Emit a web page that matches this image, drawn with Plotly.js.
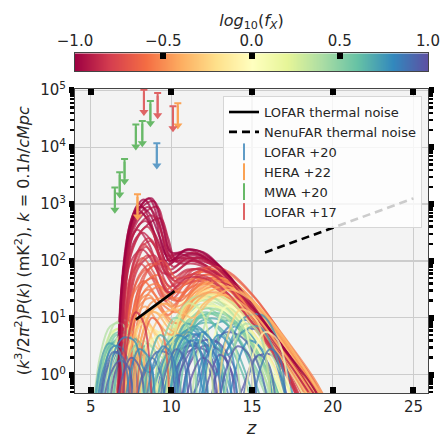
<!DOCTYPE html>
<html><head><meta charset="utf-8">
<script src="https://cdn.plot.ly/plotly-3.0.1.min.js"></script>
<style>html,body{margin:0;padding:0;background:#fff}#chart{width:445px;height:438px}</style>
</head><body><div id="chart"></div>
<script>
// ---- model curves: flat [z, log10 P, z, log10 P, ...] knots, coloured by log10(fX)
const redFx = [-1.00,-0.98,-0.96,-0.95,-0.93,-0.92,-0.90,-0.88,-0.97,-0.99,-0.86,-0.94,-0.84,-1.00,-0.91,-0.82];
const redCurves = [
 [6.70,-0.5, 7.05,1.9, 7.6,2.8, 8.3,3.08, 9.0,2.75, 9.7,2.1, 10.6,2.15, 11.6,2.12, 12.6,1.95, 14.1,1.5, 16.1,0.78, 18.2,0.0, 19.2,-0.35],
 [6.75,-0.5, 7.1,1.8, 7.7,2.75, 8.6,3.1, 9.3,2.6, 9.9,2.0, 11.0,2.2, 12.1,2.05, 13.5,1.7, 15.2,1.05, 17.2,0.3, 18.6,-0.2],
 [6.65,-0.5, 6.95,1.7, 7.4,2.6, 8.0,3.0, 8.7,2.7, 9.5,2.0, 10.4,2.12, 11.3,2.05, 12.5,1.85, 14.0,1.4, 16.0,0.65, 18.0,-0.15, 18.8,-0.5],
 [6.85,-0.5, 7.2,1.9, 7.9,2.85, 8.9,3.05, 9.5,2.6, 10.1,2.0, 11.2,2.1, 12.3,2.0, 13.6,1.65, 15.5,0.95, 17.5,0.2, 18.7,-0.3],
 [6.7,-0.5, 7.0,1.6, 7.5,2.5, 8.1,2.85, 8.8,2.55, 9.6,1.9, 10.5,2.05, 11.5,2.0, 12.7,1.8, 14.5,1.3, 16.5,0.5, 18.3,-0.2, 19.0,-0.5],
 [6.9,-0.5, 7.25,1.8, 7.9,2.7, 9.1,2.95, 9.6,2.55, 10.2,2.05, 11.3,2.15, 12.2,2.08, 13.4,1.8, 15.0,1.15, 17.0,0.4, 18.5,-0.15, 19.3,-0.45],
 [6.75,-0.5, 7.1,1.7, 7.6,2.45, 8.4,2.7, 9.2,2.35, 9.9,1.85, 10.8,2.0, 11.9,1.95, 13.0,1.75, 14.8,1.2, 16.8,0.4, 18.4,-0.3],
 [6.8,-0.5, 7.1,1.5, 7.6,2.2, 8.2,2.5, 9.0,2.25, 9.8,1.75, 11.0,1.95, 12.0,1.9, 13.3,1.65, 15.2,1.0, 17.0,0.3, 18.2,-0.3],
 [6.6,-0.5, 6.9,1.5, 7.35,2.4, 7.85,2.9, 8.5,2.75, 9.2,2.3, 9.8,1.95, 10.7,2.1, 11.8,2.1, 13.0,1.9, 14.5,1.4, 16.5,0.65, 18.5,-0.1, 19.3,-0.45],
 [6.72,-0.5, 7.05,1.85, 7.7,2.8, 8.75,3.1, 9.4,2.65, 10.0,2.15, 11.2,2.2, 12.2,2.12, 13.0,1.9, 14.1,1.53, 15.1,1.13, 16.1,0.78, 17.2,0.38, 18.2,0.0, 19.25,-0.35],
 [6.9,-0.5, 7.2,1.6, 7.7,2.3, 8.5,2.6, 9.3,2.2, 10.0,1.7, 11.0,1.85, 12.3,1.8, 13.8,1.45, 15.5,0.8, 17.2,0.05, 17.9,-0.4],
 [6.8,-0.5, 7.1,1.8, 7.7,2.65, 8.55,2.95, 9.2,2.7, 9.85,2.1, 10.7,1.95, 11.6,2.05, 12.8,1.9, 14.4,1.4, 16.3,0.7, 18.0,0.0, 19.0,-0.4],
 [7.0,-0.5, 7.3,1.4, 7.8,2.1, 8.6,2.4, 9.4,2.05, 10.2,1.65, 11.3,1.85, 12.4,1.8, 13.8,1.45, 15.6,0.75, 17.3,0.0, 18.0,-0.4],
 [6.68,-0.5, 7.0,1.75, 7.5,2.65, 8.0,2.95, 8.6,2.85, 9.3,2.4, 9.9,2.0, 10.9,2.2, 11.9,2.15, 13.2,1.85, 14.7,1.35, 16.6,0.6, 18.5,-0.1, 19.4,-0.5],
 [6.85,-0.5, 7.15,1.7, 7.8,2.55, 8.8,2.8, 9.45,2.45, 10.1,1.9, 11.0,2.05, 12.1,2.0, 13.5,1.7, 15.3,1.0, 17.3,0.2, 18.5,-0.3],
 [7.0,-0.5, 7.35,1.3, 7.9,2.0, 8.4,2.25, 9.1,2.0, 9.9,1.55, 11.0,1.75, 12.2,1.72, 13.6,1.4, 15.4,0.75, 17.0,0.05, 17.8,-0.4]
];
const orangeFx = [-0.78,-0.75,-0.72,-0.70,-0.67,-0.65,-0.62,-0.60,-0.57,-0.55,-0.52,-0.48,-0.45,-0.42,-0.38,-0.35];
const orangeCurves = [
 [6.9,-0.5, 7.2,1.2, 7.7,2.0, 8.3,2.3, 9.0,2.0, 9.7,1.5, 10.8,1.8, 11.8,1.85, 13.2,1.6, 15.0,1.0, 17.0,0.2, 18.2,-0.4],
 [7.0,-0.5, 7.3,1.1, 7.9,1.9, 8.6,2.1, 9.3,1.75, 10.1,1.35, 11.2,1.75, 12.3,1.8, 13.8,1.5, 15.7,0.85, 17.6,0.1, 18.6,-0.4],
 [6.8,-0.5, 7.1,1.0, 7.6,1.8, 8.2,2.05, 8.9,1.8, 9.6,1.35, 10.6,1.6, 11.6,1.7, 13.0,1.5, 14.8,0.95, 16.8,0.2, 17.9,-0.4],
 [7.1,-0.5, 7.4,1.0, 8.0,1.75, 8.8,1.95, 9.5,1.6, 10.4,1.3, 11.5,1.7, 12.7,1.75, 14.2,1.45, 16.0,0.8, 18.0,0.0, 19.0,-0.45],
 [6.95,-0.5, 7.25,0.9, 7.8,1.6, 8.5,1.85, 9.2,1.55, 10.0,1.2, 11.2,1.6, 12.5,1.7, 14.0,1.4, 15.8,0.8, 17.7,0.0, 18.6,-0.45],
 [7.2,-0.5, 7.5,0.9, 8.1,1.55, 8.9,1.7, 9.6,1.4, 10.6,1.3, 11.8,1.65, 13.0,1.65, 14.6,1.3, 16.5,0.6, 18.3,-0.1, 19.2,-0.5],
 [6.9,-0.5, 7.2,0.8, 7.7,1.45, 8.3,1.65, 9.0,1.4, 9.8,1.05, 11.0,1.5, 12.2,1.6, 13.7,1.35, 15.6,0.75, 17.5,0.0, 18.3,-0.45],
 [7.3,-0.5, 7.6,0.9, 8.3,1.6, 9.2,1.75, 10.0,1.5, 10.8,1.45, 12.0,1.75, 13.1,1.7, 14.6,1.35, 16.5,0.7, 18.4,-0.05, 19.3,-0.5],
 [7.0,-0.5, 7.3,0.7, 7.9,1.3, 8.6,1.5, 9.4,1.25, 10.3,1.1, 11.6,1.55, 12.9,1.6, 14.5,1.3, 16.4,0.65, 18.2,-0.05, 19.0,-0.45],
 [7.4,-0.5, 7.8,0.8, 8.5,1.4, 9.3,1.55, 10.1,1.35, 11.0,1.4, 12.3,1.7, 13.5,1.65, 15.0,1.25, 16.8,0.6, 18.6,-0.1, 19.4,-0.5],
 [7.0,-0.5, 7.4,0.6, 8.0,1.2, 8.7,1.35, 9.5,1.1, 10.4,0.9, 11.7,1.45, 13.0,1.55, 14.6,1.25, 16.4,0.6, 18.0,-0.1, 18.8,-0.5],
 [7.5,-0.5, 8.0,0.7, 8.7,1.25, 9.5,1.35, 10.4,1.2, 11.5,1.45, 12.8,1.65, 14.0,1.55, 15.6,1.1, 17.4,0.4, 19.0,-0.3, 19.5,-0.5],
 [6.8,-0.5, 7.2,0.5, 7.8,1.05, 8.4,1.2, 9.1,0.95, 10.0,0.7, 11.3,1.3, 12.6,1.45, 14.3,1.2, 16.2,0.55, 17.9,-0.15, 18.6,-0.5],
 [7.6,-0.5, 8.1,0.6, 8.9,1.15, 9.8,1.25, 10.7,1.05, 11.8,1.35, 13.1,1.55, 14.4,1.45, 16.0,1.0, 17.8,0.3, 19.2,-0.3, 19.6,-0.5],
 [7.1,-0.5, 7.5,0.5, 8.2,1.0, 9.0,1.1, 9.9,0.8, 10.8,0.7, 12.0,1.25, 13.3,1.4, 15.0,1.1, 16.8,0.45, 18.4,-0.2, 19.0,-0.5],
 [8.0,-0.5, 8.5,0.5, 9.4,1.05, 10.4,1.15, 11.3,1.0, 12.4,1.3, 13.6,1.5, 15.0,1.3, 16.6,0.8, 18.4,0.05, 19.5,-0.5]
];
const extraFx = [-0.85,-0.80,-0.95,-0.90,-0.70,-0.76,-0.55,-0.50,-0.40,-0.33,-0.88,-0.68];
const extraCurves = [
 [7.1,-0.5, 7.4,1.2, 8.0,1.9, 8.9,2.1, 9.6,1.8, 10.4,1.5, 11.5,1.8, 12.7,1.8, 14.2,1.45, 16.1,0.75, 17.8,0.0, 18.5,-0.4],
 [6.95,-0.5, 7.3,1.3, 7.9,2.1, 8.7,2.35, 9.5,1.9, 10.3,1.55, 11.4,1.85, 12.5,1.85, 14.0,1.5, 15.9,0.8, 17.7,0.05, 18.6,-0.4],
 [6.8,-0.5, 7.15,1.6, 7.8,2.4, 9.3,2.75, 9.8,2.4, 10.3,2.0, 11.1,2.05, 12.0,2.05, 13.2,1.85, 14.9,1.25, 16.9,0.5, 18.7,-0.2, 19.3,-0.45],
 [6.6,-0.5, 6.9,1.4, 7.3,2.2, 7.9,2.55, 8.6,2.3, 9.4,1.8, 10.2,1.8, 11.2,2.0, 12.4,1.95, 13.9,1.6, 15.8,0.9, 17.7,0.15, 18.9,-0.35],
 [7.2,-0.5, 7.6,1.0, 8.4,1.8, 9.4,1.95, 10.2,1.65, 11.0,1.6, 12.1,1.85, 13.3,1.75, 14.9,1.35, 16.8,0.65, 18.6,-0.1, 19.4,-0.5],
 [6.7,-0.5, 7.0,1.1, 7.5,1.75, 8.1,1.95, 8.8,1.7, 9.6,1.3, 10.6,1.55, 11.7,1.65, 13.1,1.45, 14.9,0.9, 16.9,0.15, 17.8,-0.4],
 [7.3,-0.5, 7.7,0.9, 8.4,1.5, 9.1,1.6, 9.9,1.4, 10.9,1.6, 12.2,1.85, 13.4,1.8, 15.0,1.4, 16.9,0.7, 18.8,-0.05, 19.5,-0.4],
 [6.9,-0.5, 7.3,0.7, 7.9,1.25, 8.6,1.4, 9.3,1.15, 10.1,0.9, 11.4,1.5, 12.7,1.65, 14.3,1.35, 16.2,0.7, 18.0,-0.05, 18.8,-0.5],
 [7.7,-0.5, 8.1,0.6, 8.8,1.15, 9.6,1.25, 10.5,1.1, 11.6,1.5, 12.9,1.7, 14.2,1.55, 15.8,1.05, 17.6,0.35, 19.1,-0.3, 19.6,-0.5],
 [6.6,-0.5, 7.0,0.5, 7.6,0.95, 8.3,1.0, 9.1,0.7, 9.8,0.5, 10.9,1.2, 12.2,1.45, 13.8,1.25, 15.7,0.65, 17.4,-0.05, 18.1,-0.5],
 [6.75,-0.5, 7.05,1.3, 7.5,2.0, 8.2,2.2, 9.0,1.9, 9.8,1.45, 10.9,1.7, 12.0,1.7, 13.4,1.45, 15.2,0.85, 17.0,0.1, 17.8,-0.4],
 [7.4,-0.5, 7.8,1.1, 8.6,1.85, 9.5,2.0, 10.3,1.7, 11.2,1.75, 12.4,1.9, 13.6,1.8, 15.2,1.35, 17.1,0.6, 18.9,-0.15, 19.5,-0.5]
];
const yellowFx = [-0.30,-0.25,-0.20,-0.15,-0.10,-0.05,0.00,0.05,0.10,0.12,-0.28,-0.18];
const yellowCurves = [
 [6.3,-0.5, 6.8,0.5, 7.5,0.95, 8.3,0.9, 9.2,0.45, 9.9,0.5, 11.0,1.25, 12.3,1.5, 13.8,1.3, 15.6,0.7, 17.3,0.0, 18.0,-0.5],
 [6.6,-0.5, 7.1,0.6, 7.9,1.0, 8.7,0.85, 9.6,0.35, 10.4,0.7, 11.6,1.4, 12.9,1.55, 14.5,1.25, 16.4,0.55, 18.1,-0.2, 18.7,-0.5],
 [6.0,-0.5, 6.5,0.4, 7.2,0.8, 8.0,0.65, 8.8,-0.1, 9.4,-0.6, 10.0,0.1, 10.8,1.0, 11.8,1.35, 13.0,1.3, 14.6,0.9, 16.3,0.2, 17.2,-0.5],
 [7.5,-0.5, 8.0,0.4, 8.8,0.8, 9.5,0.7, 10.2,0.75, 11.3,1.3, 12.6,1.5, 14.1,1.3, 15.9,0.75, 17.8,0.0, 18.7,-0.5],
 [6.2,-0.5, 6.7,0.35, 7.4,0.7, 8.2,0.55, 8.9,-0.1, 9.3,-0.6, 9.8,0.0, 10.6,0.9, 11.7,1.3, 13.0,1.35, 14.7,0.95, 16.6,0.2, 17.6,-0.5],
 [8.2,-0.5, 8.8,0.4, 9.8,1.0, 11.0,1.35, 12.3,1.55, 13.8,1.5, 15.6,1.1, 17.6,0.35, 19.1,-0.2, 19.6,-0.5],
 [6.5,-0.5, 7.0,0.3, 7.7,0.65, 8.5,0.5, 9.3,0.0, 9.8,-0.1, 10.6,0.7, 11.7,1.2, 13.0,1.3, 14.6,1.0, 16.4,0.3, 17.5,-0.5],
 [5.9,-0.5, 6.4,0.3, 7.0,0.6, 7.8,0.45, 8.5,-0.2, 8.8,-0.6, 9.6,-0.1, 10.6,0.8, 11.8,1.2, 13.2,1.15, 14.8,0.7, 16.3,0.0, 16.9,-0.5],
 [7.8,-0.5, 8.3,0.3, 9.1,0.7, 10.0,0.85, 11.2,1.25, 12.6,1.4, 14.2,1.2, 16.0,0.6, 17.7,-0.1, 18.4,-0.5],
 [6.4,-0.5, 6.9,0.25, 7.6,0.55, 8.3,0.35, 8.9,-0.5, 9.7,-0.3, 10.5,0.6, 11.6,1.1, 12.9,1.2, 14.5,0.9, 16.2,0.2, 17.0,-0.5],
 [7.2,-0.5, 7.7,0.6, 8.5,1.1, 9.4,1.05, 10.2,0.8, 11.2,1.3, 12.6,1.6, 14.2,1.45, 16.0,0.9, 17.9,0.15, 19.0,-0.4],
 [6.9,-0.5, 7.4,0.5, 8.2,0.9, 9.0,0.75, 9.8,0.4, 10.7,0.9, 11.9,1.35, 13.3,1.4, 15.0,1.05, 16.9,0.35, 18.3,-0.3, 18.8,-0.5]
];
const greenFx = [0.20,0.25,0.30,0.35,0.40,0.45,0.50,0.55,0.58,0.28,0.38,0.48];
const greenCurves = [
 [5.6,-0.5, 6.0,0.4, 6.6,0.8, 7.3,0.75, 8.0,0.2, 8.4,-0.5, 9.2,-0.2, 10.0,0.7, 11.0,1.25, 12.2,1.4, 13.6,1.15, 15.2,0.5, 16.6,-0.3, 17.0,-0.5],
 [5.3,-0.5, 5.7,0.3, 6.3,0.75, 7.0,0.8, 7.7,0.4, 8.3,-0.5, 9.0,-0.5, 9.7,0.4, 10.7,1.1, 11.9,1.3, 13.3,1.1, 14.9,0.45, 16.2,-0.3, 16.6,-0.5],
 [6.0,-0.5, 6.4,0.35, 7.0,0.7, 7.7,0.6, 8.3,0.0, 8.6,-0.5, 9.4,-0.3, 10.2,0.6, 11.3,1.2, 12.6,1.35, 14.0,1.1, 15.5,0.45, 16.8,-0.3, 17.2,-0.5],
 [5.5,-0.5, 5.9,0.4, 6.5,0.9, 7.2,0.95, 7.9,0.55, 8.5,-0.3, 8.8,-0.6, 9.6,0.0, 10.5,0.9, 11.6,1.3, 12.9,1.25, 14.4,0.8, 15.9,0.0, 16.5,-0.5],
 [6.3,-0.5, 6.7,0.3, 7.3,0.6, 8.0,0.45, 8.5,-0.3, 8.8,-0.6, 9.5,0.0, 10.3,0.8, 11.4,1.2, 12.7,1.2, 14.1,0.85, 15.6,0.1, 16.2,-0.5],
 [5.8,-0.5, 6.2,0.3, 6.8,0.7, 7.5,0.65, 8.1,0.1, 8.5,-0.5, 9.1,-0.3, 9.9,0.5, 10.9,1.05, 12.0,1.2, 13.3,0.95, 14.8,0.3, 15.9,-0.4],
 [6.6,-0.5, 7.0,0.2, 7.6,0.5, 8.2,0.3, 8.6,-0.5, 9.6,-0.4, 10.5,0.55, 11.6,1.0, 12.9,1.05, 14.4,0.75, 16.0,0.05, 16.6,-0.5],
 [5.4,-0.5, 5.8,0.25, 6.4,0.7, 7.1,0.75, 7.8,0.3, 8.3,-0.5, 9.2,-0.5, 10.0,0.3, 11.0,0.95, 12.2,1.1, 13.6,0.85, 15.1,0.2, 16.2,-0.5],
 [6.1,-0.5, 6.5,0.2, 7.1,0.55, 7.8,0.5, 8.4,-0.1, 8.7,-0.5, 9.8,-0.3, 10.8,0.6, 12.0,1.05, 13.4,1.05, 14.9,0.6, 16.4,-0.2, 16.9,-0.5],
 [7.0,-0.5, 7.5,0.3, 8.2,0.6, 8.9,0.45, 9.5,0.3, 10.4,0.9, 11.6,1.35, 12.9,1.4, 14.4,1.1, 16.0,0.45, 17.4,-0.3, 17.8,-0.5],
 [5.2,-0.5, 5.6,0.35, 6.2,0.85, 6.9,0.9, 7.6,0.5, 8.2,-0.4, 8.5,-0.6, 9.3,0.1, 10.2,0.95, 11.3,1.35, 12.6,1.35, 14.0,1.0, 15.5,0.3, 16.5,-0.5],
 [6.8,-0.5, 7.3,0.3, 8.0,0.55, 8.6,0.2, 9.0,-0.5, 9.9,0.0, 10.8,0.8, 11.9,1.15, 13.2,1.1, 14.7,0.65, 16.2,-0.1, 16.8,-0.5]
];
const blueFx = [0.62,0.66,0.70,0.74,0.78,0.82,0.86,0.90,0.94,0.98,1.00,0.68,0.76,0.84,0.92,0.96,0.72,0.80];
const blueCurves = [
 [5.5,-0.5, 5.9,0.2, 6.5,0.6, 7.2,0.6, 7.8,0.1, 8.2,-0.5, 9.3,-0.5, 10.0,0.2, 10.9,0.85, 11.9,1.0, 13.1,0.75, 14.3,0.1, 15.0,-0.5],
 [6.0,-0.5, 6.4,0.25, 7.0,0.55, 7.6,0.4, 8.1,-0.2, 8.4,-0.6, 9.6,-0.5, 10.4,0.3, 11.4,0.85, 12.6,0.9, 13.9,0.5, 15.0,-0.3, 15.4,-0.6],
 [5.3,-0.5, 5.7,0.2, 6.3,0.55, 7.0,0.55, 7.6,0.0, 8.0,-0.6, 9.0,-0.5, 9.8,0.2, 10.7,0.7, 11.7,0.8, 12.8,0.45, 13.7,-0.3, 14.0,-0.6],
 [6.5,-0.5, 6.9,0.2, 7.5,0.45, 8.1,0.25, 8.5,-0.5, 10.5,-0.5, 11.2,0.3, 12.3,0.8, 13.6,0.95, 14.9,0.7, 16.1,0.1, 16.8,-0.5],
 [5.7,-0.5, 6.1,0.15, 6.7,0.45, 7.3,0.35, 7.8,-0.3, 8.1,-0.6, 9.2,-0.6, 9.9,0.0, 10.8,0.55, 11.8,0.6, 12.8,0.2, 13.4,-0.5],
 [7.2,-0.5, 7.6,0.1, 8.2,0.35, 8.8,0.1, 9.2,-0.5, 11.5,-0.5, 12.4,0.3, 13.6,0.85, 14.9,0.95, 16.1,0.5, 17.0,-0.3, 17.3,-0.6],
 [5.9,-0.5, 6.3,0.2, 6.9,0.5, 7.5,0.35, 8.0,-0.4, 8.3,-0.6, 9.5,-0.6, 10.2,0.0, 11.1,0.5, 12.1,0.55, 13.1,0.1, 13.6,-0.5],
 [6.8,-0.5, 7.2,0.05, 7.8,0.3, 8.4,0.0, 8.7,-0.6, 12.0,-0.6, 12.9,0.1, 14.1,0.7, 15.3,0.8, 16.4,0.35, 17.1,-0.4],
 [5.6,-0.5, 6.0,0.1, 6.6,0.4, 7.2,0.3, 7.7,-0.4, 8.0,-0.6, 9.0,-0.6, 9.8,-0.1, 10.6,0.45, 11.5,0.5, 12.4,0.05, 12.9,-0.5],
 [9.3,-0.6, 10.1,0.0, 11.0,0.4, 12.0,0.45, 12.9,0.0, 13.3,-0.6, 14.3,-0.3, 15.2,0.3, 16.2,0.35, 17.0,-0.2, 17.3,-0.6],
 [6.2,-0.5, 6.6,0.1, 7.2,0.3, 7.8,0.1, 8.2,-0.6, 10.3,-0.6, 11.0,0.1, 11.9,0.5, 12.9,0.45, 13.8,0.0, 14.2,-0.6],
 [6.4,-0.5, 6.8,0.3, 7.4,0.65, 8.1,0.55, 8.6,0.0, 8.9,-0.5, 10.0,-0.4, 10.8,0.5, 11.9,0.95, 13.1,0.95, 14.4,0.5, 15.4,-0.3, 15.7,-0.6],
 [8.5,-0.6, 9.3,0.1, 10.2,0.6, 11.2,0.8, 12.2,0.5, 12.8,0.0, 13.4,0.4, 14.5,1.0, 15.6,1.05, 16.6,0.6, 17.4,-0.2, 17.7,-0.6],
 [5.4,-0.5, 5.8,0.1, 6.4,0.5, 7.0,0.45, 7.6,-0.2, 7.9,-0.6, 9.1,-0.6, 9.9,0.1, 10.8,0.65, 11.8,0.7, 12.8,0.3, 13.4,-0.5],
 [7.6,-0.6, 8.3,0.0, 9.1,0.4, 9.9,0.35, 10.4,-0.4, 11.4,-0.3, 12.3,0.4, 13.4,0.75, 14.6,0.6, 15.6,0.0, 16.0,-0.6],
 [5.8,-0.5, 6.2,0.0, 6.8,0.25, 7.4,0.1, 7.8,-0.6, 9.8,-0.6, 10.6,0.1, 11.6,0.55, 12.7,0.6, 13.8,0.2, 14.4,-0.5],
 [9.0,-0.6, 9.7,0.2, 10.6,0.7, 11.6,0.85, 12.6,0.55, 13.5,0.35, 14.4,0.75, 15.4,0.85, 16.4,0.4, 17.1,-0.4],
 [6.0,-0.5, 6.4,0.35, 7.0,0.65, 7.7,0.6, 8.3,0.1, 8.7,0.05, 9.5,0.45, 10.4,0.7, 11.3,0.5, 11.9,-0.2, 12.2,-0.6]
];
const arcFx = [0.90,0.95,0.85,1.00,0.75,0.65,0.55,0.45,0.15,-0.10,-0.45,0.80,0.92,0.70,0.60,0.35,0.05,-0.25,0.88,0.98,0.50,0.25,0.72,-0.65,-0.85,0.82,0.40,-0.05,0.97,0.68,
               0.93,0.87,0.99,0.78,0.95,0.74,0.83,0.86,0.91,0.79];
const arcCurves = [
 [9.0,-0.6, 9.5,0.2, 10.1,0.55, 10.7,0.3, 11.1,-0.6],
 [10.2,-0.6, 10.8,0.3, 11.5,0.7, 12.2,0.45, 12.7,-0.6],
 [11.3,-0.6, 11.9,0.25, 12.6,0.6, 13.3,0.35, 13.8,-0.6],
 [8.6,-0.6, 9.1,0.0, 9.7,0.35, 10.3,0.1, 10.7,-0.6],
 [12.4,-0.6, 13.1,0.4, 13.9,0.85, 14.7,0.6, 15.3,-0.6],
 [7.4,-0.6, 7.9,0.2, 8.5,0.55, 9.1,0.35, 9.5,-0.6],
 [5.6,-0.6, 6.0,0.3, 6.6,0.7, 7.2,0.55, 7.7,-0.6],
 [6.3,-0.6, 6.7,0.35, 7.3,0.8, 7.9,0.6, 8.4,-0.6],
 [5.9,-0.6, 6.3,0.3, 6.9,0.7, 7.6,0.6, 8.2,-0.6],
 [6.9,-0.6, 7.3,0.4, 7.9,0.85, 8.6,0.7, 9.2,-0.6],
 [6.6,-0.6, 7.0,0.3, 7.5,0.7, 8.1,0.5, 8.6,-0.6],
 [13.5,-0.6, 14.1,0.2, 14.8,0.6, 15.6,0.45, 16.3,-0.6],
 [14.3,-0.6, 14.8,0.0, 15.4,0.35, 16.0,0.2, 16.5,-0.6],
 [9.5,-0.6, 10.1,0.4, 10.9,0.9, 11.7,0.75, 12.3,-0.6],
 [10.4,-0.6, 11.0,0.5, 11.8,1.05, 12.6,0.9, 13.3,-0.6],
 [11.2,-0.6, 11.8,0.6, 12.6,1.15, 13.5,1.0, 14.3,-0.6],
 [12.0,-0.6, 12.6,0.6, 13.4,1.2, 14.3,1.05, 15.2,-0.6],
 [12.8,-0.6, 13.4,0.6, 14.3,1.15, 15.3,0.95, 16.2,-0.6],
 [7.8,-0.6, 8.2,0.0, 8.8,0.3, 9.3,0.05, 9.7,-0.6],
 [11.9,-0.6, 12.4,0.0, 13.0,0.35, 13.6,0.15, 14.0,-0.6],
 [8.8,-0.6, 9.4,0.5, 10.2,1.0, 11.0,0.85, 11.6,-0.6],
 [9.6,-0.6, 10.2,0.7, 11.0,1.25, 11.9,1.1, 12.6,-0.6],
 [5.2,-0.6, 5.6,0.2, 6.1,0.55, 6.7,0.45, 7.1,-0.6],
 [7.8,-0.6, 8.2,0.5, 8.8,1.0, 9.4,0.8, 9.9,-0.6],
 [7.0,-0.6, 7.3,0.6, 7.8,1.1, 8.3,0.9, 8.8,-0.6],
 [10.6,-0.6, 11.2,0.35, 11.9,0.75, 12.6,0.55, 13.1,-0.6],
 [13.2,-0.6, 13.8,0.4, 14.6,0.9, 15.4,0.75, 16.2,-0.6],
 [14.5,-0.6, 15.0,0.3, 15.8,0.75, 16.6,0.6, 17.4,-0.6],
 [6.6,-0.6, 7.0,0.0, 7.5,0.3, 8.0,0.15, 8.4,-0.6],
 [8.2,-0.6, 8.7,0.3, 9.3,0.7, 9.9,0.5, 10.4,-0.6],
 [9.2,-0.6, 9.7,0.1, 10.3,0.45, 10.9,0.25, 11.3,-0.6],
 [10.0,-0.6, 10.5,0.2, 11.2,0.6, 11.8,0.4, 12.3,-0.6],
 [10.8,-0.6, 11.3,0.0, 11.9,0.3, 12.5,0.15, 12.9,-0.6],
 [11.6,-0.6, 12.2,0.3, 12.9,0.7, 13.6,0.5, 14.1,-0.6],
 [12.9,-0.6, 13.4,0.1, 14.1,0.5, 14.8,0.35, 15.3,-0.6],
 [9.8,-0.6, 10.3,0.3, 11.0,0.75, 11.6,0.6, 12.1,-0.6],
 [8.4,-0.6, 8.9,0.2, 9.5,0.5, 10.1,0.3, 10.5,-0.6],
 [15.0,-0.6, 15.5,0.1, 16.1,0.45, 16.7,0.3, 17.1,-0.6],
 [5.5,-0.6, 5.9,0.1, 6.4,0.4, 7.0,0.3, 7.4,-0.6],
 [7.1,-0.6, 7.5,0.1, 8.0,0.45, 8.6,0.3, 9.0,-0.6]
];

// ---- thermal noise curves (mK^2)
const lofarNoiseZ = [7.8, 10.2];
const lofarNoiseP = [9.3, 29.5];
const nenufarNoiseZ = [15.8, 25.0];
const nenufarNoiseP = [141, 1259];

// ---- observational upper limits (mK^2)
const lofar20Z = [9.1],  lofar20P = [11700];
const hera22Z = [7.9, 10.4], hera22P = [1480, 58900];
const mwa20Z = [6.5, 6.8, 7.1, 7.8, 8.2, 8.7], mwa20P = [1950, 3630, 6170, 25100, 28800, 64600];
const lofar17Z = [8.3, 9.15, 10.1], lofar17P = [102000, 89100, 52500];

// ---- tick labels
const yTickVals = [1, 10, 100, 1000, 10000, 100000];
const yTickText = ['10<sup>0</sup>','10<sup>1</sup>','10<sup>2</sup>','10<sup>3</sup>','10<sup>4</sup>','10<sup>5</sup>'];
const xTickVals = [5, 10, 15, 20, 25];
const cbTickVals = [-1, -0.5, 0, 0.5, 1];
const cbTickText = ['\u22121.0', '\u22120.5', '0.0', '0.5', '1.0'];
const cbStops = [-1, -0.8, -0.6, -0.4, -0.2, 0, 0.2, 0.4, 0.6, 0.8, 1];

const spectralHex = ['#9e0142','#d53e4f','#f46d43','#fdae61','#fee08b','#ffffbf','#e6f598','#abdda4','#66c2a5','#3288bd','#5e4fa2'];
const spectralScale = spectralHex.map((c, i) => [i / 10, c]);
function hex2rgb(h) { return [parseInt(h.slice(1,3),16), parseInt(h.slice(3,5),16), parseInt(h.slice(5,7),16)]; }
function spectral(fx, a) {
  let t = Math.max(0, Math.min(1, (fx + 1) / 2)) * 10;
  let i = Math.min(9, Math.floor(t)), f = t - i;
  const c0 = hex2rgb(spectralHex[i]), c1 = hex2rgb(spectralHex[i + 1]);
  const c = c0.map((v, k) => Math.round(v + (c1[k] - v) * f));
  return `rgba(${c[0]},${c[1]},${c[2]},${a})`;
}

const FONT = 'DejaVu Sans, Verdana, sans-serif';
const traces = [];

// colour bar drawn as a heatmap on its own axes
traces.push({type:'heatmap', x: cbStops, y:[0, 1], z:[cbStops, cbStops], colorscale: spectralScale,
  zmin:-1, zmax:1, zsmooth:'best', showscale:false, xaxis:'x2', yaxis:'y2', hoverinfo:'skip'});

const families = [[redCurves, redFx], [blueCurves, blueFx], [orangeCurves, orangeFx], [arcCurves, arcFx],
                  [yellowCurves, yellowFx], [extraCurves, extraFx], [greenCurves, greenFx]];
const maxN = Math.max(...families.map(f => f[0].length));
for (let i = 0; i < maxN; i++) {
  for (const [curves, fxs] of families) {
    if (i >= curves.length) continue;
    const k = curves[i];
    const xs = [], ys = [];
    for (let j = 0; j < k.length; j += 2) { xs.push(k[j]); ys.push(Math.pow(10, k[j + 1])); }
    traces.push({type:'scatter', mode:'lines', x: xs, y: ys, showlegend:false, hoverinfo:'skip',
      line:{color: spectral(fxs[i], 0.75), width:2, shape:'spline', smoothing:1}});
  }
}

traces.push({type:'scatter', mode:'lines', x: lofarNoiseZ, y: lofarNoiseP, name:'LOFAR thermal noise',
  line:{color:'#000', width:2.6}, hoverinfo:'skip'});
traces.push({type:'scatter', mode:'lines', x: nenufarNoiseZ, y: nenufarNoiseP, name:'NenuFAR thermal noise',
  line:{color:'#000', width:2.6, dash:'8px,5px'}, hoverinfo:'skip'});

const ARROW = 0.39; // arrow length in decades
function limitTraces(zs, ps, name, c) {
  traces.push({type:'scatter', mode:'markers', x: zs, y: ps, showlegend:false, hoverinfo:'skip',
    marker:{symbol:'line-ew-open', size:5, color:c, line:{color:c, width:2}},
    error_y:{type:'data', symmetric:false, array: ps.map(() => 0), arrayminus: ps.map(p => p - p * Math.pow(10, -ARROW)),
      width:0, thickness:2, color:c}});
  traces.push({type:'scatter', mode:'markers', x: zs, y: ps.map(p => p * Math.pow(10, -ARROW)), showlegend:false,
    marker:{symbol:'triangle-down', size:8, color:c, line:{width:0}}, hoverinfo:'skip'});
  traces.push({type:'scatter', mode:'markers', x: zs, y: ps.map(p => p * Math.pow(10, -ARROW / 2)), name: name,
    marker:{symbol:'line-ns-open', size:12, color:c, line:{color:c, width:2}}, hoverinfo:'skip'});
}
limitTraces(lofar20Z, lofar20P, 'LOFAR +20', '#5f9cc7');
limitTraces(hera22Z, hera22P, 'HERA +22', '#fba253');
limitTraces(mwa20Z, mwa20P, 'MWA +20', '#68b968');
limitTraces(lofar17Z, lofar17P, 'LOFAR +17', '#df6465');

const layout = {
  width:445, height:438,
  margin:{l:75, r:17, t:30, b:45},
  paper_bgcolor:'#ffffff', plot_bgcolor:'#f3f3f3',
  font:{family: FONT, size:15, color:'#262626'},
  showlegend:true,
  legend:{x:0.983, y:0.818, xanchor:'right', yanchor:'top', bgcolor:'rgba(255,255,255,0.8)',
    bordercolor:'#d6d6d6', borderwidth:1, tracegroupgap:0,
    font:{family:FONT, size:13, color:'#262626'}},
  xaxis:{domain:[0,1], anchor:'y', range:[4.03, 25.9], tickvals:xTickVals, ticks:'inside', ticklen:6, tickwidth:6,
    tickcolor:'#000', mirror:'ticks', showline:true, linecolor:'#444', linewidth:1,
    showgrid:true, gridcolor:'#cccccc', gridwidth:1.2, zeroline:false,
    title:{text:'<i>z</i>', font:{size:18}, standoff:12}},
  yaxis:{domain:[0, 0.8388], anchor:'x', type:'log', range:[-0.32, 5.03], tickvals:yTickVals, ticktext:yTickText,
    ticks:'outside', ticklen:5, tickwidth:6, tickcolor:'#000', mirror:'allticks', showline:true, linecolor:'#444', linewidth:1,
    showgrid:true, gridcolor:'#cccccc', gridwidth:1.2, zeroline:false,
    minor:{ticks:'outside', ticklen:4, tickwidth:2.5, tickcolor:'#000', dtick:'D1', showgrid:false},
    title:{text:'(<i>k</i><sup>3</sup>/2<i>π</i><sup>2</sup>)<i>P</i>(<i>k</i>) (mK<sup>2</sup>), <i>k</i> = 0.1<i>h</i>/<i>cMpc</i>', font:{size:16}, standoff:6}},
  xaxis2:{domain:[0,1], anchor:'y2', range:[-1,1], side:'top', tickvals:cbTickVals, ticktext:cbTickText,
    ticks:'inside', ticklen:6, tickwidth:6, tickcolor:'#000', showline:true, mirror:true, linecolor:'#444', linewidth:1,
    showgrid:false, zeroline:false, fixedrange:true,
    title:{text:'<i>log</i><sub>10</sub>(<i>f</i><sub><i>X</i></sub>)', font:{size:16}, standoff:0}},
  yaxis2:{domain:[0.8871, 0.9358], anchor:'x2', range:[0,1], showticklabels:false, ticks:'', showgrid:false,
    zeroline:false, showline:true, mirror:true, linecolor:'#444', linewidth:1, fixedrange:true}
};
Plotly.newPlot('chart', traces, layout, {displayModeBar:false, staticPlot:true});
</script></body></html>
